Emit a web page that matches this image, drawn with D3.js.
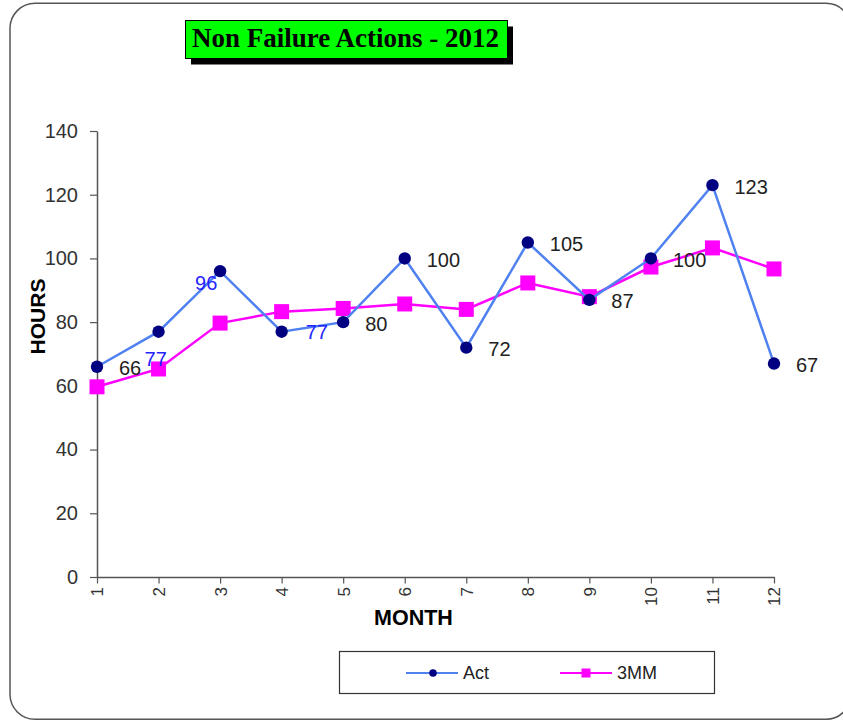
<!DOCTYPE html>
<html>
<head>
<meta charset="utf-8">
<script src="https://cdn.jsdelivr.net/npm/d3@7"></script>
<style>
  html, body { margin: 0; padding: 0; background: #fff; }
  svg { display: block; }
  text { font-family: "Liberation Sans", Arial, sans-serif; }
</style>
</head>
<body>
<svg id="chart" width="843" height="721"></svg>
<script>
// Monthly hours for non-failure actions, 2012
const months = [1, 2, 3, 4, 5, 6, 7, 8, 9, 10, 11, 12];
const actValues = [66, 77, 96, 77, 80, 100, 72, 105, 87, 100, 123, 67];
const mm3Values = [59.7, 65.3, 79.7, 83.3, 84.3, 85.7, 84, 92.3, 88, 97.3, 103.3, 96.7];
const yTicks = [0, 20, 40, 60, 80, 100, 120, 140];
const titleText = "Non Failure Actions - 2012";
const seriesNames = ["Act", "3MM"];

const svg = d3.select("#chart");

// Outer rounded frame
svg.append("rect")
  .attr("x", 10).attr("y", 3.3)
  .attr("width", 841).attr("height", 716)
  .attr("rx", 25).attr("ry", 25)
  .attr("fill", "#fff")
  .attr("stroke", "#555").attr("stroke-width", 1.5);

// Title box with drop shadow
const tb = { x: 185.5, y: 20.5, w: 322, h: 38 };
svg.append("rect").attr("x", tb.x + 5.5).attr("y", tb.y + 6)
  .attr("width", tb.w).attr("height", tb.h).attr("fill", "#000");
svg.append("rect").attr("x", tb.x).attr("y", tb.y)
  .attr("width", tb.w).attr("height", tb.h)
  .attr("fill", "#00ff00").attr("stroke", "#000").attr("stroke-width", 1);
svg.append("text")
  .attr("x", tb.x + tb.w / 2 - 1).attr("y", tb.y + 26.5)
  .attr("text-anchor", "middle")
  .style("font-family", "'Liberation Serif', 'Times New Roman', serif")
  .style("font-weight", "bold").style("font-size", "27px")
  .attr("fill", "#000")
  .text(titleText);

// Scales
const x = d3.scalePoint().domain(months).range([97, 774]);
const y = d3.scaleLinear().domain([0, 140]).range([577, 131]);

// Y axis
const yAxis = svg.append("g")
  .attr("transform", "translate(97,0)")
  .call(d3.axisLeft(y).tickValues(yTicks).tickSize(7).tickPadding(12).tickSizeOuter(0));
yAxis.select(".domain").attr("stroke", "#555").attr("stroke-width", 1.5);
yAxis.selectAll(".tick line").attr("stroke", "#555").attr("stroke-width", 1.2);
yAxis.selectAll(".tick text")
  .style("font-size", "20px").attr("fill", "#333");

// X axis with vertical tick labels
const xAxis = svg.append("g")
  .attr("transform", "translate(0,577)")
  .call(d3.axisBottom(x).tickSize(6.5).tickSizeOuter(0));
xAxis.select(".domain").attr("stroke", "#555").attr("stroke-width", 1.5);
xAxis.selectAll(".tick line").attr("stroke", "#555").attr("stroke-width", 1.2);
xAxis.selectAll(".tick text")
  .style("font-size", "17px").attr("fill", "#333")
  .attr("transform", "rotate(-90)")
  .attr("text-anchor", "end")
  .attr("x", -10).attr("y", 0).attr("dy", "0.35em");

// Axis titles
svg.append("text")
  .attr("transform", "translate(45,316.5) rotate(-90)")
  .attr("text-anchor", "middle")
  .style("font-size", "21px").style("font-weight", "bold")
  .text("HOURS");
svg.append("text")
  .attr("x", 413.5).attr("y", 625)
  .attr("text-anchor", "middle")
  .style("font-size", "21.5px").style("font-weight", "bold")
  .text("MONTH");

const line = d3.line().x((d, i) => x(months[i])).y(d => y(d));

// 3MM series (magenta squares)
svg.append("path").datum(mm3Values)
  .attr("d", line).attr("fill", "none")
  .attr("stroke", "#ff00ff").attr("stroke-width", 2.5);
svg.selectAll(".mm3").data(mm3Values).enter().append("rect")
  .attr("class", "mm3")
  .attr("x", (d, i) => x(months[i]) - 7.5).attr("y", d => y(d) - 7.5)
  .attr("width", 15).attr("height", 15)
  .attr("fill", "#ff00ff");

// Act series (blue line, navy dots)
svg.append("path").datum(actValues)
  .attr("d", line).attr("fill", "none")
  .attr("stroke", "#4f81f0").attr("stroke-width", 2.5);
svg.selectAll(".act").data(actValues).enter().append("circle")
  .attr("class", "act")
  .attr("cx", (d, i) => x(months[i])).attr("cy", d => y(d))
  .attr("r", 6.2).attr("fill", "#000080");

// Value labels for Act; a few are placed by hand and drawn in blue
const labelOffsets = {
  1: { dx: -14, dy: 27, color: "#2424ff" },
  2: { dx: -25, dy: 11.5, color: "#2424ff" },
  3: { dx: 24, dy: 0.5, color: "#2424ff" }
};
svg.selectAll(".actLabel").data(actValues).enter().append("text")
  .attr("class", "actLabel")
  .attr("x", (d, i) => x(months[i]) + (labelOffsets[i] ? labelOffsets[i].dx : 22))
  .attr("y", (d, i) => y(d) + (labelOffsets[i] ? labelOffsets[i].dy : 1.5))
  .attr("dy", "0.35em")
  .style("font-size", "20px")
  .attr("fill", (d, i) => labelOffsets[i] ? labelOffsets[i].color : "#222")
  .text(d => d);

// Legend
const lg = svg.append("g");
lg.append("rect").attr("x", 339.5).attr("y", 651.5)
  .attr("width", 375).attr("height", 42)
  .attr("fill", "#fff").attr("stroke", "#333").attr("stroke-width", 1.2);
const legendItems = [
  { name: seriesNames[0], x: 406, color: "#4f81f0", marker: "circle" },
  { name: seriesNames[1], x: 560, color: "#ff00ff", marker: "rect" }
];
legendItems.forEach(it => {
  lg.append("line").attr("x1", it.x).attr("x2", it.x + 52)
    .attr("y1", 673).attr("y2", 673)
    .attr("stroke", it.color).attr("stroke-width", 2.2);
  if (it.marker === "circle") {
    lg.append("circle").attr("cx", it.x + 27).attr("cy", 673).attr("r", 3.8).attr("fill", "#000080");
  } else {
    lg.append("rect").attr("x", it.x + 21.5).attr("y", 668.5).attr("width", 9).attr("height", 9).attr("fill", "#ff00ff");
  }
  lg.append("text").attr("x", it.x + 57).attr("y", 673).attr("dy", "0.35em")
    .style("font-size", "18px").attr("fill", "#222").text(it.name);
});
</script>
</body>
</html>
